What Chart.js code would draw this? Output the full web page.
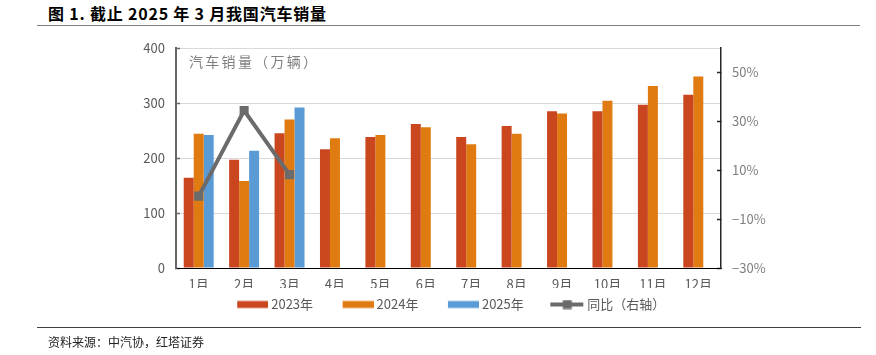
<!DOCTYPE html>
<html><head><meta charset="utf-8">
<script src="https://cdn.jsdelivr.net/npm/chart.js@4.4.1/dist/chart.umd.min.js"></script>
<style>
html,body{margin:0;padding:0;background:#fff;}
#wrap{position:relative;width:876px;height:355px;overflow:hidden;font-family:"Noto Sans CJK SC","Noto Sans",sans-serif;}
#title{position:absolute;left:48px;top:3px;font-size:16px;font-weight:bold;color:#000;line-height:20px;white-space:nowrap;letter-spacing:0.8px;}
#topline{position:absolute;left:37px;top:25px;width:823px;height:0;border-top:1.5px solid #808080;}
#botline{position:absolute;left:37px;top:327px;width:824px;height:0;border-top:1.5px solid #404040;}
#source{position:absolute;left:48px;top:334px;font-size:12px;color:#222;line-height:16px;white-space:nowrap;}
canvas{position:absolute;left:0;top:0;}
</style></head>
<body><div id="wrap">
<div id="title">图 1. 截止 2025 年 3 月我国汽车销量</div>
<div id="topline"></div>
<canvas id="c" width="876" height="355"></canvas>
<div id="botline"></div>
<div id="source">资料来源：中汽协，红塔证券</div>
</div>
<script>
const months = ['1月','2月','3月','4月','5月','6月','7月','8月','9月','10月','11月','12月'];
const sales2023 = [164, 197, 245, 216, 238, 262, 238, 258, 285, 285, 297, 315];
const sales2024 = [244, 158, 270, 236, 242, 256, 225, 244, 281, 304, 331, 348];
const sales2025 = [242, 213, 292, null, null, null, null, null, null, null, null, null];
const yoy2025 = [-0.6, 34.4, 8.2, null, null, null, null, null, null, null, null, null];
const leftTicks = [0, 100, 200, 300, 400];
const rightTicks = [-30, -10, 10, 30, 50];
const seriesNames = ['2023年', '2024年', '2025年', '同比（右轴）'];
const unitLabel = '汽车销量（万辆）';

const C23 = '#C9461F', C24 = '#E07B12', C25 = '#5B9BD5', CL = '#6B6B6B';
const BOXW = 47, IMGW = 54;

function swatch(color, isLine) {
  const cv = document.createElement('canvas');
  cv.width = IMGW; cv.height = 10;
  const g = cv.getContext('2d');
  if (isLine) {
    g.strokeStyle = color; g.lineWidth = 4;
    g.beginPath(); g.moveTo(IMGW - 34, 5); g.lineTo(IMGW - 1, 5); g.stroke();
    g.fillStyle = color; g.fillRect(IMGW - 17 - 4.5, 0.5, 9, 9);
  } else {
    g.fillStyle = color; g.fillRect(IMGW - 31, 1.5, 31, 7);
  }
  return cv;
}
const legendImgs = [swatch(C23), swatch(C24), swatch(C25), swatch(CL, true)];

Chart.defaults.font.family = '"Noto Sans CJK SC","Liberation Sans",sans-serif';

const unitPlugin = {
  id: 'unitLabel',
  afterDraw(chart) {
    const {ctx, chartArea} = chart;
    ctx.save();
    ctx.font = '14px "Noto Sans CJK SC"';
    ctx.fillStyle = '#7F7F7F';
    ctx.textBaseline = 'middle';
    ctx.letterSpacing = '2.3px';
    ctx.fillText(unitLabel, chartArea.left + 13, chartArea.top + 14);
    ctx.restore();
  }
};

const PL = 28, PR = 21;
new Chart(document.getElementById('c'), {
  type: 'bar',
  data: {
    labels: months,
    datasets: [
      {label: seriesNames[0], data: sales2023, backgroundColor: C23, yAxisID: 'y', order: 1},
      {label: seriesNames[1], data: sales2024, backgroundColor: C24, yAxisID: 'y', order: 1},
      {label: seriesNames[2], data: sales2025, backgroundColor: C25, yAxisID: 'y', order: 1},
      {type: 'line', label: seriesNames[3], data: yoy2025, yAxisID: 'y1', order: 0,
       borderColor: CL, backgroundColor: CL, borderWidth: 4, pointStyle: 'rect',
       pointRadius: 6.4, pointBackgroundColor: CL, pointBorderColor: CL, pointBorderWidth: 0,
       spanGaps: false, tension: 0}
    ]
  },
  options: {
    responsive: false,
    animation: false,
    devicePixelRatio: 1,
    layout: {padding: {left: PL, right: PR, top: 48, bottom: 34}},
    datasets: {bar: {categoryPercentage: 0.66, barPercentage: 1.0}},
    plugins: {
      tooltip: {enabled: false},
      legend: {
        position: 'bottom',
        labels: {
          color: '#595959',
          font: {size: 13},
          padding: 10,
          usePointStyle: true,
          pointStyleWidth: BOXW,
          boxHeight: 13,
          sort: (a, b) => a.datasetIndex - b.datasetIndex,
          generateLabels(chart) {
            return chart.data.datasets.map((ds, i) => ({
              text: ds.label, datasetIndex: i, pointStyle: legendImgs[i],
              fillStyle: 'transparent', strokeStyle: 'transparent', lineWidth: 0,
              fontColor: '#595959', hidden: false
            }));
          }
        }
      }
    },
    scales: {
      x: {
        offset: true,
        grid: {display: false, drawTicks: false},
        border: {display: true, color: '#000000', width: 1},
        ticks: {color: '#595959', font: {size: 13}, padding: 8, maxRotation: 0, autoSkip: false},
        afterFit(s) { s.height = 20; }
      },
      y: {
        position: 'left',
        min: 0, max: 400,
        afterBuildTicks(s) { s.ticks = leftTicks.map(v => ({value: v})); },
        grid: {color: '#D9D9D9', lineWidth: 1, drawTicks: true, tickLength: -4, tickColor: '#666666', tickWidth: 1.5},
        border: {display: true, color: '#666666', width: 2},
        ticks: {color: '#595959', font: {size: 13}, padding: 15},
        afterFit(s) { s.width = 176 - PL; }
      },
      y1: {
        position: 'right',
        min: -30, max: 60,
        afterBuildTicks(s) { s.ticks = rightTicks.map(v => ({value: v})); },
        grid: {drawOnChartArea: false, drawTicks: true, tickLength: -4, tickColor: '#262626', tickWidth: 1.5},
        border: {display: true, color: '#262626', width: 1.5},
        ticks: {color: '#7F7F7F', font: {size: 13}, padding: 15,
          callback: v => (v < 0 ? '\u2212' + Math.abs(v) : v) + '%'},
        afterFit(s) { s.width = 876 - PR - 721; }
      }
    }
  },
  plugins: [unitPlugin]
});
</script>
</body></html>
